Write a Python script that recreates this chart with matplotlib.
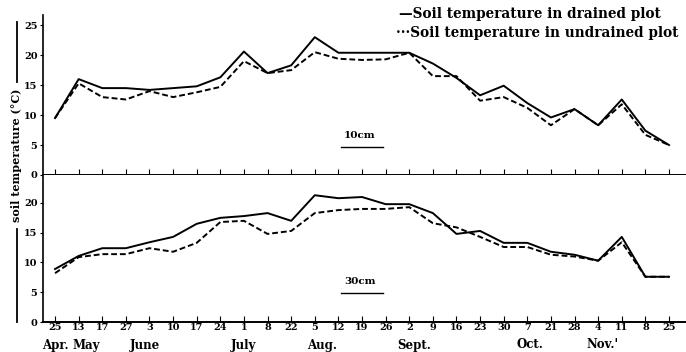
import matplotlib.pyplot as plt
from matplotlib.lines import Line2D
from matplotlib.transforms import blended_transform_factory

plt.rcParams['font.family'] = 'DejaVu Serif'

# sampling dates
day_labels = ['25', '13', '17', '27', '3', '10', '17', '24', '1', '8', '22', '5', '12', '19',
              '26', '2', '9', '16', '23', '30', '7', '21', '28', '4', '11', '8', '25']
months = ['Apr.', 'May', 'June', 'July', 'Aug.', 'Sept.', 'Oct.', 'Nov.\'']
month_pos = [0, 1.3, 3.8, 8, 11.3, 15.2, 20.1, 23.2]

# 10cm depth
drained_10 = [9.5, 16.0, 14.5, 14.5, 14.2, 14.5, 14.8, 16.3, 20.6, 17.0, 18.3, 23.0, 20.4, 20.4,
              20.4, 20.4, 18.6, 16.2, 13.3, 14.9, 12.0, 9.6, 11.0, 8.3, 12.6, 7.4, 5.0]
undrained_10 = [9.5, 15.3, 13.0, 12.6, 14.0, 13.0, 13.8, 14.7, 19.0, 17.0, 17.5, 20.5, 19.4, 19.2,
                19.3, 20.4, 16.5, 16.5, 12.4, 13.0, 11.2, 8.3, 11.0, 8.3, 11.8, 6.7, 5.0]

# 30cm depth
drained_30 = [8.9, 11.1, 12.4, 12.4, 13.4, 14.3, 16.5, 17.5, 17.8, 18.3, 17.0, 21.3, 20.8, 21.0,
              19.8, 19.8, 18.3, 14.8, 15.3, 13.3, 13.3, 11.8, 11.3, 10.3, 14.3, 7.6, 7.6]
undrained_30 = [8.2, 10.9, 11.4, 11.4, 12.4, 11.8, 13.3, 16.8, 17.0, 14.8, 15.3, 18.3, 18.8, 19.0,
                19.0, 19.3, 16.6, 15.9, 14.3, 12.6, 12.6, 11.3, 11.0, 10.3, 13.4, 7.6, 7.6]

x = list(range(len(day_labels)))

fig = plt.figure(figsize=(6.86, 3.52), dpi=100)
ax1 = fig.add_axes([43 / 686, 177 / 352, 643 / 686, 160 / 352])
ax2 = fig.add_axes([43 / 686, 30 / 352, 643 / 686, 147 / 352])

tick_font = dict(fontsize=7, fontweight='bold')

for ax, d, u, ymax, yticks, depth, ytxt in [
        (ax1, drained_10, undrained_10, 26.7, [0, 5, 10, 15, 20, 25], '10cm', 5.9),
        (ax2, drained_30, undrained_30, 24.7, [0, 5, 10, 15, 20], '30cm', 6.1)]:
    ax.plot(x, d, color='black', lw=1.4)
    ax.plot(x, u, color='black', lw=1.4, ls=(0, (3, 1.5)))
    ax.set_xlim(-0.51, 26.72)
    ax.set_ylim(0, ymax)
    ax.set_yticks(yticks)
    ax.set_yticklabels([str(t) for t in yticks], **tick_font)
    ax.set_xticks(x)
    ax.tick_params(axis='y', direction='out', length=2, width=0.8, pad=2)
    ax.tick_params(axis='x', direction='in', length=4, width=0.8)
    for s in ['top', 'right']:
        ax.spines[s].set_visible(False)
    ax.spines['left'].set_linewidth(1.2)
    ax.spines['bottom'].set_linewidth(1.4)
    # depth label with underline
    ax.text(12.9, ytxt, depth, ha='center', va='bottom', fontsize=7.5, fontweight='bold')
    ax.plot([12.1, 13.9], [ytxt - 1.2, ytxt - 1.2], color='black', lw=1.0)

ax1.set_xticklabels([])
ax2.set_xticklabels(day_labels, **tick_font)
ax2.tick_params(axis='x', pad=1)

trans = blended_transform_factory(ax2.transData, fig.transFigure)
for m, p in zip(months, month_pos):
    ax2.text(p, 7 / 352, m, transform=trans, ha='center', va='center',
             fontsize=8.5, fontweight='bold')

# y axis title with rules above and below
fig.text(17 / 686, 1 - 155 / 352, 'soil temperature (°C)', rotation=90, ha='center',
         va='center', fontsize=8, fontweight='bold')
fig.add_artist(Line2D([17 / 686, 17 / 686], [1 - 22 / 352, 1 - 82 / 352], color='black', lw=1.3))
fig.add_artist(Line2D([17 / 686, 17 / 686], [1 - 229 / 352, 1 - 322 / 352], color='black', lw=1.3))

# legend
fig.text(399 / 686, 1 - 14 / 352, '—Soil temperature in drained plot', ha='left', va='center',
         fontsize=9.8, fontweight='bold')
fig.text(396 / 686, 1 - 33 / 352, '···Soil temperature in undrained plot', ha='left', va='center',
         fontsize=9.8, fontweight='bold')

fig.savefig('out.png', dpi=100)
